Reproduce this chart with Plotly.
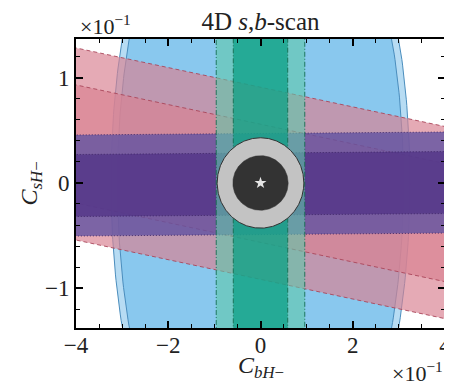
import numpy as np
import plotly.graph_objects as go

# ---- data (units of 1e-1) ----
x_range = [-4.0, 4.0]
y_range = [-1.38, 1.37]
x_ticks = [-4, -2, 0, 2, 4]
x_ticktext = ["−4", "−2", "0", "2", "4"]
y_ticks = [-1, 0, 1]
y_ticktext = ["−1", "0", "1"]

# blue ellipse (outer / inner semi-axes)
blue_a = [3.24, 3.10]
blue_b = [3.62, 3.46]

# pink tilted bands: centre line y = c0 + slope*x, half widths
pink_c0 = -0.003
pink_slope = -0.0935
pink_half = [0.914, 0.562]

# purple near-horizontal bands
purple_c0 = -0.010
purple_slope = 0.0035
purple_half = [0.481, 0.295]

# teal vertical bands (half widths in x)
teal_half = [0.96, 0.59]

# grey best-fit region (semi-axes)
grey_a = [0.94, 0.60]
grey_b = [0.43, 0.26]
best_fit = [0.0, 0.0]

fig = go.Figure()

def ellipse(a, b, n=400):
    t = np.linspace(0, 2 * np.pi, n)
    return a * np.cos(t), b * np.sin(t)

# blue ellipses
blue_fill = ["#b7dcf3", "#89c8ee"]
for a, b, fc in zip(blue_a, blue_b, blue_fill):
    ex, ey = ellipse(a, b)
    fig.add_trace(go.Scatter(x=ex, y=ey, mode="lines", fill="toself",
                             fillcolor=fc, line=dict(color="#4a8dbd", width=1),
                             hoverinfo="skip"))

def band(c0, slope, h, xe=6.0):
    xs = [-xe, xe, xe, -xe, -xe]
    ys = [c0 - slope * xe + h, c0 + slope * xe + h, c0 + slope * xe - h,
          c0 - slope * xe - h, c0 - slope * xe + h]
    return xs, ys

# pink bands
pink_fill = ["rgba(217,130,146,0.68)", "rgba(217,130,146,0.68)"]
for h, fc in zip(pink_half, pink_fill):
    bx, by = band(pink_c0, pink_slope, h)
    fig.add_trace(go.Scatter(x=bx, y=by, mode="lines", fill="toself",
                             fillcolor=fc,
                             line=dict(color="rgba(170,70,90,0.9)", width=1, dash="4px,3px"),
                             hoverinfo="skip"))

# purple bands
purple_fill = ["rgba(97,82,161,0.8)", "rgba(82,53,135,0.8)"]
for h, fc in zip(purple_half, purple_fill):
    bx, by = band(purple_c0, purple_slope, h)
    fig.add_trace(go.Scatter(x=bx, y=by, mode="lines", fill="toself",
                             fillcolor=fc,
                             line=dict(color="rgba(60,35,100,0.9)", width=1, dash="1px,2px"),
                             hoverinfo="skip"))

# teal bands
teal_fill = ["rgba(95,200,170,0.6)", "rgba(6,157,129,0.7)"]
for h, fc in zip(teal_half, teal_fill):
    fig.add_trace(go.Scatter(x=[-h, h, h, -h, -h], y=[-3, -3, 3, 3, -3], mode="lines",
                             fill="toself", fillcolor=fc,
                             line=dict(color="rgba(20,110,80,0.9)", width=1, dash="5px,2px,1px,2px"),
                             hoverinfo="skip"))

# grey regions
grey_fill = ["#c3c3c3", "#333333"]
grey_line = [dict(color="#333333", width=1), dict(color="#333333", width=0.5)]
for a, b, fc, ln in zip(grey_a, grey_b, grey_fill, grey_line):
    ex, ey = ellipse(a, b)
    fig.add_trace(go.Scatter(x=ex + best_fit[0], y=ey + best_fit[1], mode="lines",
                             fill="toself", fillcolor=fc, line=ln, hoverinfo="skip"))

fig.add_trace(go.Scatter(x=[best_fit[0]], y=[best_fit[1]], mode="markers",
                         marker=dict(symbol="star", size=9, color="#e6e6e6",
                                     line=dict(width=0)),
                         hoverinfo="skip"))

font_family = "Liberation Serif, DejaVu Serif, serif"
axis_common = dict(showline=True, linecolor="black", linewidth=2, mirror="allticks",
                   ticks="inside", ticklen=7, tickwidth=1.5, tickcolor="black",
                   showgrid=False, zeroline=False, automargin=False,
                   tickfont=dict(family=font_family, size=23, color="#222"))

# the page body adds an 8px offset, so the figure is 8px smaller and shifted
fig.update_layout(
    width=444, height=379,
    margin=dict(l=68, r=7, t=31, b=59, autoexpand=False),
    paper_bgcolor="white", plot_bgcolor="white",
    showlegend=False,
    title=dict(text="4D <i>s</i>,<i>b</i>-scan", x=0.5, xref="paper",
               y=1 - 13 / 379, yref="container", yanchor="middle", xanchor="center",
               font=dict(family=font_family, size=25, color="#222")),
    xaxis=dict(range=x_range, tickvals=x_ticks, ticktext=x_ticktext,
               ticklabelstandoff=-5,
               minor=dict(dtick=0.5, ticks="inside", ticklen=4, tickwidth=1.2,
                          tickcolor="black", showgrid=False),
               **axis_common),
    yaxis=dict(range=y_range, tickvals=y_ticks, ticktext=y_ticktext,
               minor=dict(dtick=0.2, tick0=0, ticks="inside", ticklen=4, tickwidth=1.2,
                          tickcolor="black", showgrid=False),
               **axis_common),
)

ann_font = dict(family=font_family, size=22, color="#222")
fig.add_annotation(text="<i>C</i><sub><i>bH</i>−</sub>", xref="paper", yref="paper",
                   x=0.5, y=-39 / 289, xanchor="center", yanchor="middle",
                   showarrow=False, font=dict(family=font_family, size=24, color="#222"))
fig.add_annotation(text="<i>C</i><sub><i>sH</i>−</sub>", xref="paper", yref="paper",
                   x=-46 / 369, y=0.5, xanchor="center", yanchor="middle", textangle=-90,
                   showarrow=False, font=dict(family=font_family, size=24, color="#222"))
fig.add_annotation(text="×10<sup>−1</sup>", xref="paper", yref="paper",
                   x=2 / 369, y=1 + 14 / 289, xanchor="left", yanchor="middle",
                   showarrow=False, font=ann_font)
fig.add_annotation(text="×10<sup>−1</sup>", xref="paper", yref="paper",
                   x=1.0, y=-44 / 289, xanchor="right", yanchor="middle",
                   showarrow=False, font=ann_font)

fig.write_html("out.html")
